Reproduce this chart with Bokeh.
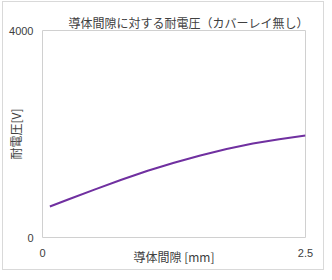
from bokeh.plotting import figure
from bokeh.models import FixedTicker, Range1d
from bokeh.embed import file_html
from bokeh.resources import INLINE

# Data
gap_mm = [0.07, 0.25, 0.5, 0.75, 1.0, 1.25, 1.5, 1.75, 2.0, 2.25, 2.5]
voltage_v = [600, 740, 930, 1115, 1290, 1445, 1585, 1710, 1815, 1900, 1972]
x_ticks = [0, 2.5]
y_ticks = [0, 4000]
x_tick_labels = {0: "0", 2.5: "2.5"}
y_tick_labels = {0: "0", 4000: "4000"}

title_text = "導体間隙に対する耐電圧（カバーレイ無し）"
x_title = "導体間隙 [mm]"
y_title = "耐電圧[V]"

CJK = "Noto Sans CJK JP"
LAT = "Liberation Sans"
TXT = "#404040"

p = figure(width=322, height=269, output_backend="svg", toolbar_location=None,
           x_range=Range1d(0, 2.5), y_range=Range1d(0, 4000),
           min_border_left=39, min_border_right=20, min_border_top=28, min_border_bottom=34,
           styles={"border": "1px solid #d9d9d9", "margin-left": "2px", "margin-top": "1px"})

p.title.text = title_text
p.title.align = "left"
p.title.offset = 26
p.title.text_font = CJK
p.title.text_font_size = "12px"
p.title.text_font_style = "normal"
p.title.text_color = TXT
p.title.standoff = 0

p.line(gap_mm, voltage_v, line_color="#7030A0", line_width=2, line_join="round")

p.xgrid.visible = False
p.ygrid.visible = False
p.outline_line_color = "#d0d0d0"
p.outline_line_width = 1

for ax in (p.xaxis[0], p.yaxis[0]):
    ax.axis_line_color = None
    ax.major_tick_line_color = None
    ax.minor_tick_line_color = None
    ax.major_tick_out = 0
    ax.major_tick_in = 0
    ax.minor_tick_out = 0
    ax.minor_tick_in = 0
    ax.major_label_text_font = LAT
    ax.major_label_text_font_size = "11px"
    ax.major_label_text_color = TXT
    ax.axis_label_text_font = CJK
    ax.axis_label_text_font_size = "12px"
    ax.axis_label_text_font_style = "normal"
    ax.axis_label_text_color = TXT

p.xaxis.ticker = FixedTicker(ticks=x_ticks)
p.yaxis.ticker = FixedTicker(ticks=y_ticks)
p.xaxis.major_label_overrides = x_tick_labels
p.yaxis.major_label_overrides = y_tick_labels
p.xaxis.axis_label = x_title
p.yaxis.axis_label = y_title
p.xaxis.major_label_standoff = 11
p.yaxis.major_label_standoff = 9
p.xaxis.axis_label_standoff = -12
p.yaxis.axis_label_standoff = -18

open("out.html", "w").write(file_html(p, INLINE))
